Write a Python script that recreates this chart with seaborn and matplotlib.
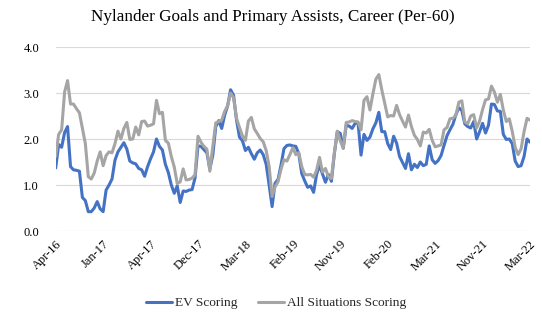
import numpy as np
import pandas as pd
import matplotlib
matplotlib.use("Agg")
import matplotlib.pyplot as plt
import seaborn as sns
from matplotlib.lines import Line2D

ev_scoring = [
    1.37, 1.88, 1.82, 2.14, 2.27, 1.40, 1.33, 1.32, 1.30, 0.73,
    0.66, 0.42, 0.42, 0.50, 0.64, 0.48, 0.42, 0.89, 1.00, 1.13,
    1.54, 1.72, 1.82, 1.92, 1.78, 1.52, 1.48, 1.46, 1.36, 1.33,
    1.19, 1.40, 1.57, 1.72, 2.00, 1.84, 1.76, 1.45, 1.27, 1.00,
    0.82, 0.98, 0.62, 0.87, 0.86, 0.89, 0.90, 1.15, 1.85, 1.84,
    1.77, 1.70, 1.35, 1.65, 2.27, 2.40, 2.23, 2.52, 2.72, 3.07,
    2.95, 2.41, 2.04, 1.96, 1.75, 1.82, 1.68, 1.56, 1.70, 1.76,
    1.66, 1.45, 1.00, 0.53, 1.04, 1.12, 1.43, 1.79, 1.86, 1.87,
    1.85, 1.84, 1.68, 1.25, 1.09, 0.95, 0.98, 0.84, 1.23, 1.43,
    1.24, 1.06, 1.23, 1.08, 1.68, 2.16, 2.12, 1.80, 2.30, 2.28,
    2.23, 2.34, 2.35, 1.65, 2.10, 1.97, 2.04, 2.22, 2.35, 2.58,
    2.16, 2.16, 1.90, 1.77, 2.06, 1.91, 1.62, 1.49, 1.36, 1.68,
    1.33, 1.45, 1.38, 1.50, 1.42, 1.45, 1.85, 1.55, 1.47, 1.53,
    1.64, 1.86, 2.07, 2.20, 2.32, 2.53, 2.68, 2.62, 2.33, 2.27,
    2.24, 2.38, 2.00, 2.16, 2.34, 2.13, 2.30, 2.76, 2.75, 2.61,
    2.60, 2.10, 1.99, 2.00, 1.90, 1.52, 1.40, 1.42, 1.62, 2.00,
    1.93,
]

all_situations = [
    1.62, 2.10, 2.20, 3.02, 3.27, 2.76, 2.76, 2.66, 2.57, 2.23,
    1.90, 1.18, 1.13, 1.26, 1.52, 1.72, 1.42, 1.64, 1.72, 1.70,
    1.90, 2.17, 2.00, 2.23, 2.36, 1.99, 2.00, 2.26, 2.09, 2.38,
    2.39, 2.28, 2.30, 2.33, 2.84, 2.55, 2.58, 1.97, 1.91, 1.62,
    1.39, 1.03, 1.07, 1.35, 1.11, 1.12, 1.15, 1.22, 2.06, 1.93,
    1.84, 1.78, 1.30, 1.84, 2.35, 2.38, 2.41, 2.60, 2.73, 3.00,
    2.90, 2.45, 2.25, 2.07, 1.97, 2.39, 2.47, 2.22, 2.12, 2.01,
    1.94, 1.75, 1.40, 0.75, 0.96, 1.07, 1.34, 1.55, 1.52, 1.66,
    1.81, 1.66, 1.70, 1.40, 1.23, 1.22, 1.23, 1.17, 1.32, 1.60,
    1.28, 1.36, 1.18, 1.14, 1.70, 2.17, 1.96, 1.80, 2.36, 2.37,
    2.40, 2.38, 2.37, 2.20, 2.84, 2.92, 2.63, 2.98, 3.30, 3.40,
    3.07, 2.78, 2.48, 2.51, 2.50, 2.73, 2.53, 2.39, 2.26, 2.52,
    2.27, 2.08, 1.99, 1.85, 2.15, 2.13, 2.21, 1.97, 1.83, 1.85,
    1.87, 2.20, 2.25, 2.44, 2.45, 2.52, 2.80, 2.83, 2.37, 2.33,
    2.50, 2.53, 2.24, 2.39, 2.64, 2.85, 2.87, 3.15, 3.02, 2.80,
    2.97, 2.63, 2.38, 2.44, 2.17, 1.82, 1.66, 1.79, 2.16, 2.45,
    2.41,
]

tick_labels = ["Apr-16", "Jan-17", "Apr-17", "Dec-17", "Mar-18", "Feb-19",
               "Nov-19", "Feb-20", "Mar-21", "Nov-21", "Mar-22"]
y_ticks = [0.0, 1.0, 2.0, 3.0, 4.0]

series_names = ["EV Scoring", "All Situations Scoring"]
colors = ["#4472C4", "#A5A5A5"]

n = len(ev_scoring)
game = np.arange(n)
df = pd.DataFrame({
    "game": np.concatenate([game, game]),
    "value": ev_scoring + all_situations,
    "series": [series_names[0]] * n + [series_names[1]] * n,
})

sns.set_theme(style="white")
plt.rcParams["font.family"] = ["Liberation Serif", "DejaVu Serif"]

fig = plt.figure(figsize=(5.42, 3.31), dpi=100)
ax = fig.add_axes([55.7 / 542, 1 - 231 / 331, (530 - 55.7) / 542, (231 - 47) / 331])

sns.lineplot(data=df, x="game", y="value", hue="series", hue_order=series_names,
             palette=colors, linewidth=2.2, ax=ax, legend=False, zorder=3)

ax.set_xlim(0, n - 1)
ax.set_ylim(0, 4)
ax.set_yticks(y_ticks)
ax.set_yticklabels([f"{v:.1f}" for v in y_ticks], fontsize=9, color="#000000")
step = (n - 1) // (len(tick_labels) - 1)
ax.set_xticks(np.arange(0, n, step))
ax.set_xticklabels(tick_labels, rotation=45, ha="right", rotation_mode="anchor",
                   fontsize=9, color="#000000")
ax.tick_params(axis="x", length=0, pad=5)
ax.tick_params(axis="y", length=0, pad=12)
ax.grid(axis="y", color="#D9D9D9", linewidth=0.8, zorder=0)
ax.grid(axis="x", visible=False)
for s in ax.spines.values():
    s.set_visible(False)
ax.set_xlabel("")
ax.set_ylabel("")

fig.text(0.504, 1 - 17 / 331, "Nylander Goals and Primary Assists, Career (Per-60)",
         ha="center", va="center", fontsize=12.3, color="#000000")

handles = [Line2D([0], [0], color=c, linewidth=2.2) for c in colors]
fig.legend(handles, series_names, loc="center", bbox_to_anchor=(0.509, 1 - 303 / 331),
           ncol=2, frameon=False, fontsize=9.6, handlelength=2.0, handletextpad=0.2,
           columnspacing=1.5)

fig.savefig("out.png", dpi=100, facecolor="white")
